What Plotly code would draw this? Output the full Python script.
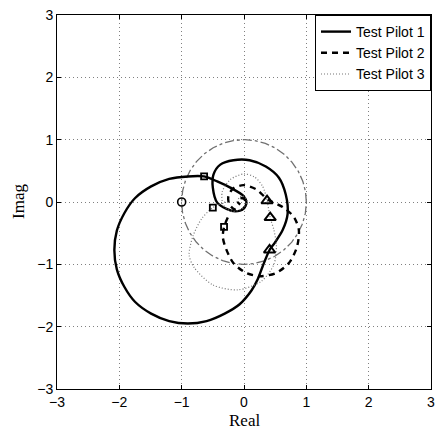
import plotly.graph_objects as go
import numpy as np

# Test Pilot 1 (solid)
p1_re = [-0.64, -0.43, -0.22, -0.01, 0.04, -0.01, -0.14, -0.28, -0.43, -0.50, -0.49, -0.38, -0.17, 0.09,
         0.35, 0.56, 0.67, 0.70, 0.62, 0.49, 0.41, 0.30, 0.22, 0.12, -0.07, -0.31, -0.60, -0.90, -1.20,
         -1.49, -1.75, -1.92, -2.04, -2.08, -2.04, -1.92, -1.75, -1.49, -1.20, -0.90, -0.64]
p1_im = [0.41, 0.33, 0.23, 0.10, -0.01, -0.11, -0.15, -0.11, -0.01, 0.23, 0.44, 0.60, 0.67, 0.67,
         0.57, 0.39, 0.12, -0.19, -0.45, -0.66, -0.77, -1.03, -1.24, -1.42, -1.64, -1.79, -1.91, -1.95, -1.91,
         -1.79, -1.60, -1.36, -1.08, -0.77, -0.46, -0.18, 0.06, 0.25, 0.37, 0.41, 0.41]

# Test Pilot 2 (dashed)
p2_re = [-0.26, -0.32, -0.34, -0.30, -0.17, 0.04, 0.28, 0.51, 0.72, 0.85, 0.88, 0.80, 0.62, 0.38,
         0.20, -0.01, -0.17, -0.25, -0.24, -0.15, -0.03, 0.03, 0.00, -0.08, -0.10, -0.06]
p2_im = [-0.25, -0.40, -0.56, -0.72, -0.98, -1.14, -1.19, -1.14, -0.98, -0.72, -0.45, -0.24, -0.08, 0.04,
         0.20, 0.27, 0.22, 0.10, -0.03, -0.12, -0.12, -0.04, 0.05, 0.06, 0.00, -0.04]

# Test Pilot 3 (dotted)
p3_re = [-0.30, -0.50, -0.68, -0.82, -0.88, -0.80, -0.50, -0.10, 0.28, 0.48, 0.52, 0.48, 0.42, 0.37,
         0.30, 0.17, 0.00, -0.22, -0.35, -0.33, -0.20, -0.02, 0.05, -0.03, -0.10]
p3_im = [0.00, -0.09, -0.27, -0.55, -0.85, -1.05, -1.33, -1.41, -1.27, -1.00, -0.70, -0.45, -0.25, 0.02,
         0.25, 0.40, 0.45, 0.36, 0.16, -0.05, -0.15, -0.10, 0.03, 0.10, 0.04]

# markers
crit_re = [-1.0]
crit_im = [0.0]
squares_re = [-0.64, -0.32, -0.50]
squares_im = [0.41, -0.40, -0.09]
tri_re = [0.41, 0.37, 0.42]
tri_im = [-0.77, 0.02, -0.25]

ticks = [-3, -2, -1, 0, 1, 2, 3]
tick_text = ["\u22123", "\u22122", "\u22121", "0", "1", "2", "3"]

fig = go.Figure()

# unit circle (gray dash-dot)
th = np.linspace(0, 2 * np.pi, 361)
fig.add_trace(go.Scatter(x=np.cos(th), y=np.sin(th), mode="lines",
                         line=dict(color="#707070", width=1.3, dash="dashdot"),
                         showlegend=False, hoverinfo="skip"))

fig.add_trace(go.Scatter(x=p1_re, y=p1_im, mode="lines", name="Test Pilot 1",
                         line=dict(color="black", width=2.4, shape="spline", smoothing=0.8)))
fig.add_trace(go.Scatter(x=p2_re, y=p2_im, mode="lines", name="Test Pilot 2",
                         line=dict(color="black", width=2.4, dash="6px,5px", shape="spline", smoothing=0.8)))
fig.add_trace(go.Scatter(x=p3_re, y=p3_im, mode="lines", name="Test Pilot 3",
                         line=dict(color="#777777", width=1.2, dash="1px,2px", shape="spline", smoothing=0.8)))

fig.add_trace(go.Scatter(x=crit_re, y=crit_im, mode="markers",
                         marker=dict(symbol="circle-open", size=8, color="black", line=dict(width=1.6)),
                         showlegend=False))
fig.add_trace(go.Scatter(x=squares_re, y=squares_im, mode="markers",
                         marker=dict(symbol="square-open", size=6, color="black", line=dict(width=1.8)),
                         showlegend=False))
fig.add_trace(go.Scatter(x=tri_re, y=tri_im, mode="markers",
                         marker=dict(symbol="triangle-up-open", size=10, color="black", line=dict(width=2)),
                         showlegend=False))

axis_common = dict(
    range=[-3, 3], tickvals=ticks, ticktext=tick_text, automargin=False,
    ticklabeloverflow="allow",
    showgrid=True, gridcolor="#808080", griddash="1px,3px", gridwidth=1,
    zeroline=False, showline=True, linecolor="black", linewidth=1, mirror="ticks",
    ticks="inside", ticklen=4, tickcolor="black",
    tickfont=dict(family="Liberation Sans, Arial", size=14, color="black"),
)

title_font = dict(family="Liberation Serif, Times New Roman", size=17, color="black")

# page body has an 8px default margin; the figure is sized so the page does not overflow the window
fig.update_layout(
    width=427, height=422,
    margin=dict(l=49, r=4, t=7, b=41, autoexpand=False),
    paper_bgcolor="white", plot_bgcolor="white",
    xaxis=dict(**axis_common),
    yaxis=dict(**axis_common),
    legend=dict(x=1, y=1, xanchor="right", yanchor="top", bgcolor="white",
                bordercolor="black", borderwidth=1,
                font=dict(family="Liberation Sans, Arial", size=14, color="black"),
                tracegroupgap=0, itemwidth=30),
    showlegend=True,
    annotations=[
        dict(text="Real", x=0.5, y=0, xref="paper", yref="paper", showarrow=False,
             font=title_font, xanchor="center", yanchor="middle", yshift=-31),
        dict(text="Imag", x=0, y=0.5, xref="paper", yref="paper", showarrow=False,
             font=title_font, textangle=-90, xanchor="center", yanchor="middle", xshift=-39),
    ],
)

fig.write_html("out.html")
